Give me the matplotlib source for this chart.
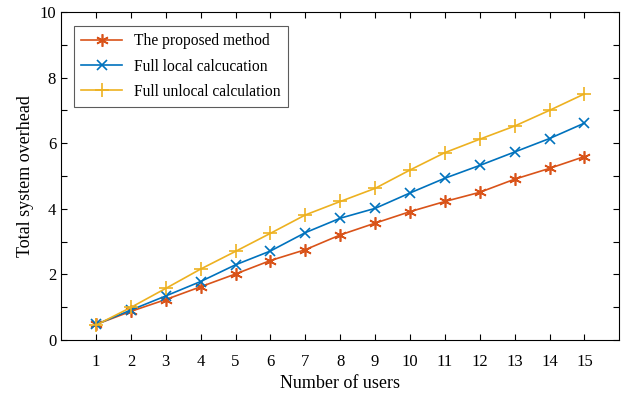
import matplotlib.pyplot as plt
import numpy as np

users = list(range(1, 16))
proposed = [0.47, 0.87, 1.23, 1.62, 2.01, 2.42, 2.75, 3.20, 3.56, 3.91, 4.22, 4.50, 4.90, 5.23, 5.59]
full_local = [0.47, 0.91, 1.34, 1.78, 2.29, 2.71, 3.27, 3.71, 4.01, 4.48, 4.93, 5.32, 5.73, 6.14, 6.61]
full_unlocal = [0.45, 0.99, 1.57, 2.16, 2.70, 3.25, 3.81, 4.22, 4.62, 5.18, 5.71, 6.12, 6.52, 7.00, 7.50]

plt.rcParams['font.family'] = ['Liberation Serif', 'DejaVu Serif']

fig = plt.figure(figsize=(6.3, 3.98), dpi=100)
ax = fig.add_axes([0.097, 0.146, 0.886, 0.824])

# asterisk marker like matlab's '*'
ax.plot(users, proposed, color='#D95319', marker=(6, 2, 0), markersize=9, mew=1.2, lw=1.2,
        label='The proposed method')
ax.plot(users, full_local, color='#0072BD', marker='x', markersize=7, mew=1.2, lw=1.2,
        label='Full local calcucation')
ax.plot(users, full_unlocal, color='#EDB120', marker='+', markersize=10, mew=1.2, lw=1.2,
        label='Full unlocal calculation')

ax.set_xlim(0, 16)
ax.set_ylim(0, 10)
ax.set_xticks(users)
ax.set_yticks(range(0, 11))
ax.set_yticklabels([str(v) if v % 2 == 0 else '' for v in range(0, 11)])
ax.tick_params(direction='in', top=True, right=True, labelsize=12, length=4, width=0.8)
ax.tick_params(axis='x', pad=10)

ax.set_xlabel('Number of users', fontsize=13)
ax.set_ylabel('Total system overhead', fontsize=13)

leg = ax.legend(loc='upper left', fontsize=11.2, fancybox=False, edgecolor='#333333',
                bbox_to_anchor=(0.01, 0.98), handlelength=2.6, borderpad=0.45, labelspacing=0.6)
leg.get_frame().set_linewidth(0.8)

plt.savefig('out.png', dpi=100)
